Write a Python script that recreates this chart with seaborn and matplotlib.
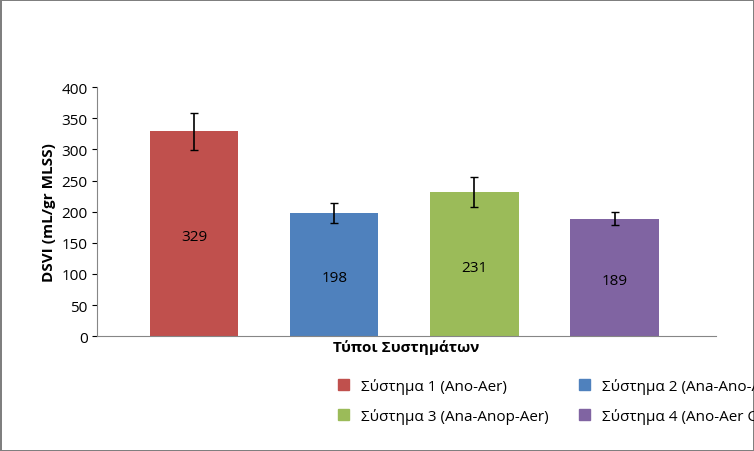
import matplotlib
matplotlib.use("Agg")
import matplotlib.pyplot as plt
import seaborn as sns
import pandas as pd

plt.rcParams['font.family'] = 'Open Sans'

systems = ['Σύστημα 1 (Ano-Aer)', 'Σύστημα 2 (Ana-Ano-Aer)',
           'Σύστημα 3 (Ana-Anop-Aer)', 'Σύστημα 4 (Ano-Aer Cl2)']
dsvi = [329, 198, 231, 189]
err = [30, 16, 24, 10]
colors = ['#C0504D', '#4F81BD', '#9BBB59', '#8064A2']

df = pd.DataFrame({'system': systems, 'dsvi': dsvi})

fig = plt.figure(figsize=(7.54, 4.52), dpi=100)
fig.patch.set_edgecolor('#7f7f7f')
fig.patch.set_linewidth(2)
ax = fig.add_axes([0.129, 0.254, 0.82, 0.551])

sns.barplot(data=df, x='system', y='dsvi', hue='system', palette=colors,
            width=0.63, ax=ax, legend=False, saturation=1)
for i, p in enumerate(ax.patches[:4]):
    cx = p.get_x() + p.get_width() / 2
    ax.errorbar(cx, dsvi[i], yerr=err[i], color='black', capsize=3, lw=1.2)
    ax.text(cx, dsvi[i] / 2 - 5, str(dsvi[i]), ha='center', va='center', fontsize=11)

ax.set_xlim(-0.69, 3.72)
ax.set_ylim(0, 400)
ax.set_yticks(range(0, 401, 50))
ax.set_xticks([])
ax.set_xlabel('Τύποι Συστημάτων', fontsize=11, fontweight='bold', labelpad=2)
ax.set_ylabel('DSVI (mL/gr MLSS)', fontsize=11, fontweight='bold')
ax.tick_params(axis='y', labelsize=11)
for s in ['top', 'right']:
    ax.spines[s].set_visible(False)
ax.spines['left'].set_color('#868686')
ax.spines['bottom'].set_color('#868686')

# matplotlib fills legend columns first; reorder so rows read 1,2 / 3,4
order = [0, 2, 1, 3]
handles = [plt.Rectangle((0, 0), 1, 1, color=colors[i]) for i in order]
fig.legend(handles, [systems[i] for i in order], loc='lower left',
           bbox_to_anchor=(0.43, 0.03), ncol=2, frameon=False, fontsize=11,
           handlelength=0.7, handleheight=0.7, columnspacing=2.0,
           labelspacing=0.9)

fig.savefig('out.png', dpi=100)
